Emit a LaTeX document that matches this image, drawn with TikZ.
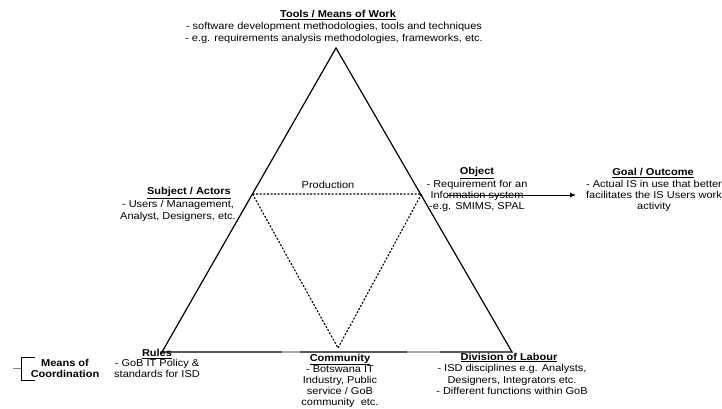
\documentclass[tikz,border=0pt]{standalone}
\usepackage{fontspec}
\setmainfont[FakeStretch=1.1]{Liberation Sans}
\usetikzlibrary{arrows.meta}
\begin{document}
\begin{tikzpicture}[x=1pt,y=-1pt,
  txt/.style={inner sep=0pt,align=center,font=\fontsize{10}{11.3}\selectfont},
  ttl/.style={inner sep=0pt,font=\fontsize{10}{11.3}\selectfont\bfseries},
  side/.style={line width=1.2pt,line join=miter},
  inner/.style={line width=1.1pt,dash pattern=on 2pt off 1.6pt}]
\useasboundingbox (0,0) rectangle (722,408);

% activity triangle
\coordinate (top) at (336,48);
\coordinate (bl) at (162,352);
\coordinate (br) at (512,352);
\draw[side] (top) -- (br) -- (bl) -- cycle;
\draw[gray!70,line width=1.2pt] (282,352) -- (300,352) (407,352) -- (440,352);

% inner production triangle
\coordinate (subj) at (252.5,194);
\coordinate (obj) at (421.5,194);
\coordinate (comm) at (338,348);
\draw[inner] (subj) -- (obj) -- (comm) -- cycle;
\node[txt] (prod) at (328,185) {Production};

% outcome arrow
\coordinate (arrS) at (448,195);
\coordinate (arrE) at (576,195);
\draw[line width=0.9pt,-{Latex[length=6pt,width=5pt]}] (arrS) -- (arrE);

% tools
\node[ttl] (toolsT) at (338,15) {\underline{Tools / Means of Work}};
\node[txt] (toolsB) at (334,33) {- software development methodologies, tools and techniques\\- e.g. requirements analysis methodologies, frameworks, etc.};

% subject
\node[ttl] (subjT) at (189,193) {\underline{Subject / Actors}};
\node[txt] (subjB) at (178,211) {- Users / Management,\\Analyst, Designers, etc.};

% object
\node[ttl] (objT) at (477,173) {\underline{Object}};
\node[txt] (objB) at (477,196) {- Requirement for an\\Information system\\-e.g. SMIMS, SPAL};

% goal
\node[ttl] (goalT) at (653,173) {\underline{Goal / Outcome}};
\node[txt] (goalB) at (654,196) {- Actual IS in use that better\\facilitates the IS Users work\\activity};

% rules
\node[ttl] (rulesT) at (157,354) {\underline{Rules}};
\node[txt] (rulesB) at (157,368.5) {- GoB IT Policy \&\\standards for ISD};

% community
\node[ttl] (commT) at (340,359.5) {\underline{Community}};
\node[txt,font=\fontsize{10}{11}\selectfont] (commB) at (340,386.5) {- Botswana IT\\Industry, Public\\service / GoB\\community\ \ etc.};

% division of labour
\node[ttl] (divT) at (509,357.5) {\underline{Division of Labour}};
\node[txt] (divB) at (512,379.5) {- ISD disciplines e.g. Analysts,\\Designers, Integrators etc.\\- Different functions within GoB};

% means of coordination
\draw[line width=0.8pt] (35,357) -- (21,357) -- (21,380) -- (35,380);
\draw[line width=0.8pt,gray] (13,368.5) -- (21,368.5);
\node[txt,font=\fontsize{10}{11}\selectfont\bfseries] (coord) at (65,368) {Means of\\Coordination};
\end{tikzpicture}
\end{document}
